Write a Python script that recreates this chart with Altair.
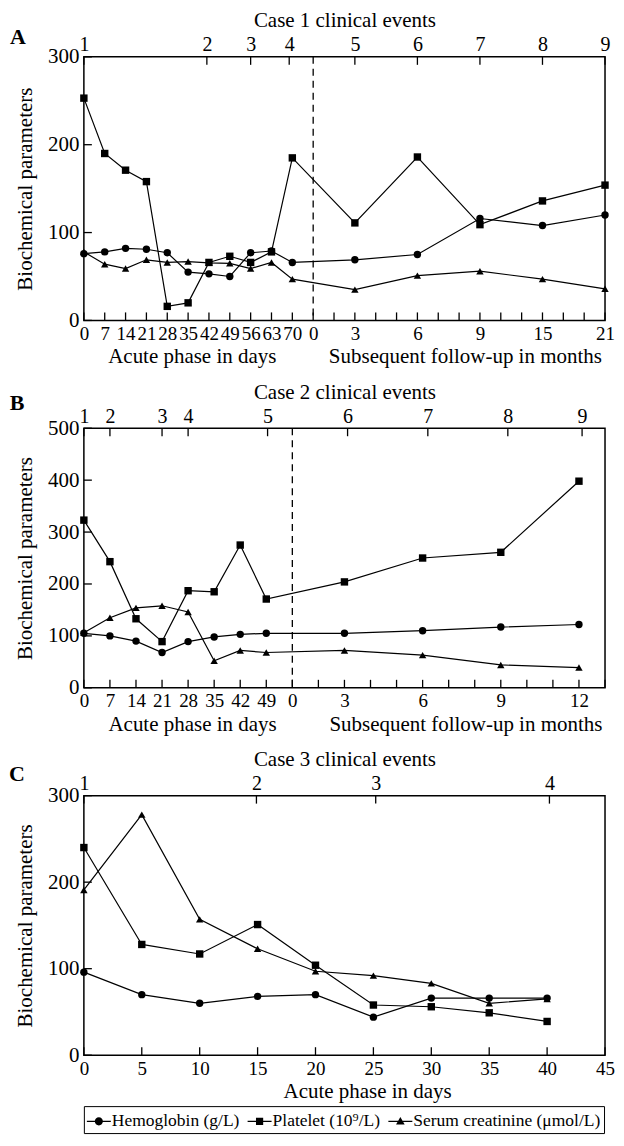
import json
import altair as alt
import pandas as pd

FONT = "Liberation Serif"

SERIES = ["Hemoglobin (g/L)", "Platelet (10⁹/L)", "Serum creatinine (μmol/L)"]
SHAPES = ["circle", "square", "triangle-up"]
LEGEND_PATHS = [
    "M-1,-0.06H1V0.06H-1Z M0.34,0 A0.34,0.34 0 1,1 -0.34,0 A0.34,0.34 0 1,1 0.34,0Z",
    "M-1,-0.06H1V0.06H-1Z M-0.3,-0.3H0.3V0.3H-0.3Z",
    "M-1,-0.06H1V0.06H-1Z M0,-0.36L0.36,0.26L-0.36,0.26Z",
]

# ---------------- Panel A (Case 1) ----------------
A_slots = [0, 1, 2, 3, 4, 5, 6, 7, 8, 9, 10, 13, 16, 19, 22, 25]
A_hb = [76, 78, 82, 81, 77, 55, 53, 50, 77, 79, 66, 69, 75, 116, 108, 120]
A_plt = [253, 190, 171, 158, 16, 20, 66, 73, 66, 78, 185, 111, 186, 109, 136, 154]
A_cr = [78, 64, 59, 69, 66, 67, 65.5, 65, 59, 66, 47, 35, 51, 56, 47, 36]
A_tick_labels = ["0", "7", "14", "21", "28", "35", "42", "49", "56", "63", "70", "0",
                 "", "3", "", "", "6", "", "", "9", "", "", "15", "", "", "21"]
A_event_pos = [0, 5.9, 8, 9.85, 13, 16, 19, 22, 25]
A_event_labels = ["1", "2", "3", "4", "5", "6", "7", "8", "9"]
A_divider = [11]
A_xtitles = ["Acute phase in days", "Subsequent follow-up in months"]
A_xtitle_pos = [5.2, 18.3]
A_yticks = [0, 100, 200, 300]

# ---------------- Panel B (Case 2) ----------------
B_slots = [0, 1, 2, 3, 4, 5, 6, 7, 10, 13, 16, 19]
B_hb = [105, 100, 90, 68, 89, 98, 103, 105, 105, 110, 117, 122]
B_plt = [323, 243, 133, 89, 187, 185, 275, 171, 204, 250, 261, 398]
B_cr = [106, 135, 154, 158, 146, 52, 72, 68, 72, 63, 44, 39]
B_tick_labels = ["0", "7", "14", "21", "28", "35", "42", "49", "0", "", "3", "", "",
                 "6", "", "", "9", "", "", "12", ""]
B_event_pos = [0, 1, 3, 4, 7.05, 10.12, 13.2, 16.27, 19.12]
B_event_labels = ["1", "2", "3", "4", "5", "6", "7", "8", "9"]
B_divider = [8]
B_xtitles = ["Acute phase in days", "Subsequent follow-up in months"]
B_xtitle_pos = [4.17, 14.66]
B_yticks = [0, 100, 200, 300, 400, 500]

# ---------------- Panel C (Case 3) ----------------
C_days = [0, 5, 10, 15, 20, 25, 30, 35, 40]
C_hb = [96, 70, 60, 68, 70, 44, 66, 66, 66]
C_plt = [240, 128, 117, 151, 104, 58, 56, 49, 39]
C_cr = [191, 278, 157, 123, 97, 92, 83, 60, 65]
C_tick_pos = [0, 5, 10, 15, 20, 25, 30, 35, 40, 45]
C_tick_labels = ["0", "5", "10", "15", "20", "25", "30", "35", "40", "45"]
C_event_pos = [0, 14.9, 25.2, 40.2]
C_event_labels = ["1", "2", "3", "4"]
C_xtitles = ["Acute phase in days"]
C_xtitle_pos = [24.5]
C_yticks = [0, 100, 200, 300]


def label_expr(pos, labels):
    return f"{json.dumps(labels)}[indexof({json.dumps(pos)}, datum.value)]"


def panel(letter, letter_xy, xs, hb, plt, cr, xdom, tick_pos, tick_labels,
          event_pos, event_labels, top_title, dividers, xtitles, xtitle_pos,
          ydom, yticks, width, height, legend=False):
    rows = []
    for name, vals in zip(SERIES, [hb, plt, cr]):
        for x, v in zip(xs, vals):
            rows.append({"x": x, "value": v, "series": name})
    df = pd.DataFrame(rows)

    xscale = alt.Scale(domain=xdom, nice=False, zero=False)
    yscale = alt.Scale(domain=ydom, nice=False, zero=False)

    bottom_axis = alt.Axis(values=tick_pos, labelExpr=label_expr(tick_pos, tick_labels),
                           ticks=False, tickSize=0, domain=False, grid=False,
                           labelFontSize=19, labelPadding=4, labelOverlap=False,
                           labelFlush=False, title=None)
    left_axis = alt.Axis(values=yticks, ticks=False, tickSize=0, domain=False, grid=False,
                         labelFontSize=21, labelPadding=5, labelOverlap=False,
                         labelFlush=False, title="Biochemical parameters",
                         titleFontSize=21, titleFontWeight="normal", titlePadding=12)
    top_axis = alt.Axis(orient="top", values=event_pos,
                        labelExpr=label_expr(event_pos, event_labels),
                        ticks=False, tickSize=0, domain=False, grid=False,
                        labelFontSize=20, labelPadding=2, labelOverlap=False,
                        labelFlush=False, title=top_title, titleFontSize=21,
                        titleFontWeight="normal", titlePadding=4)

    def Y():
        return alt.Y("value:Q", scale=yscale, axis=left_axis)

    lines = alt.Chart(df).mark_line(color="black", strokeWidth=1.2).encode(
        x=alt.X("x:Q", scale=xscale, axis=bottom_axis),
        y=Y(),
        detail="series:N",
    )
    points = alt.Chart(df).mark_point(filled=True, color="black", opacity=1, size=55).encode(
        x=alt.X("x:Q", scale=xscale, axis=None),
        y=Y(),
        shape=alt.Shape("series:N", scale=alt.Scale(domain=SERIES, range=SHAPES), legend=None),
    )
    top_ticks = alt.Chart(pd.DataFrame({"x": event_pos})).mark_rule(
        color="black", strokeWidth=1.3).encode(
        x=alt.X("x:Q", scale=xscale, axis=top_axis),
        y=alt.value(0), y2=alt.value(8),
    )
    bottom_ticks = alt.Chart(pd.DataFrame({"x": tick_pos})).mark_rule(
        color="black", strokeWidth=1.3).encode(
        x=alt.X("x:Q", scale=xscale, axis=None),
        y=alt.value(height), y2=alt.value(height - 8),
    )
    y_ticks = alt.Chart(pd.DataFrame({"value": yticks})).mark_rule(
        color="black", strokeWidth=1.3).encode(
        y=Y(),
        x=alt.value(0), x2=alt.value(8),
    )
    xt = alt.Chart(pd.DataFrame({"x": xtitle_pos, "t": xtitles})).mark_text(
        font=FONT, fontSize=21, baseline="middle", color="black").encode(
        x=alt.X("x:Q", scale=xscale, axis=None),
        y=alt.value(height + 37),
        text="t:N",
    )
    let = alt.Chart(pd.DataFrame({"t": [letter]})).mark_text(
        font=FONT, fontSize=22, fontWeight="bold", baseline="middle", color="black").encode(
        x=alt.value(letter_xy[0]), y=alt.value(letter_xy[1]), text="t:N",
    )
    layers = [lines, points, top_ticks, bottom_ticks, y_ticks, xt, let]
    if dividers:
        div = alt.Chart(pd.DataFrame({"x": dividers})).mark_rule(
            color="black", strokeWidth=1.3, strokeDash=[7, 5]).encode(
            x=alt.X("x:Q", scale=xscale, axis=None),
        )
        layers.append(div)
    if legend:
        dummy = alt.Chart(pd.DataFrame({"series": SERIES, "x": [None] * 3,
                                        "value": [None] * 3})).mark_point(
            filled=True, color="black", opacity=1).encode(
            x=alt.X("x:Q", scale=xscale, axis=None),
            y=Y(),
            shape=alt.Shape("series:N",
                            scale=alt.Scale(domain=SERIES, range=LEGEND_PATHS),
                            legend=alt.Legend(title=None, orient="bottom",
                                              direction="horizontal",
                                              symbolSize=576, symbolStrokeWidth=0,
                                              symbolFillColor="black",
                                              labelFont=FONT, labelFontSize=17.5,
                                              labelColor="black", labelLimit=400,
                                              labelOffset=1, columnPadding=8,
                                              strokeColor="black", padding=3,
                                              offset=28)),
        )
        layers.append(dummy)
    ch = alt.layer(*layers).resolve_axis(x="independent").properties(
        width=width, height=height)
    if legend:
        ch = ch.resolve_scale(shape="independent")
    return ch


pA = panel("A", (-66, -20), A_slots, A_hb, A_plt, A_cr, [0, 25], list(range(26)),
           A_tick_labels, A_event_pos, A_event_labels, "Case 1 clinical events",
           A_divider, A_xtitles, A_xtitle_pos, [0, 300], A_yticks, 522, 264)
pB = panel("B", (-67, -25), B_slots, B_hb, B_plt, B_cr, [0, 20], list(range(21)),
           B_tick_labels, B_event_pos, B_event_labels, "Case 2 clinical events",
           B_divider, B_xtitles, B_xtitle_pos, [0, 500], B_yticks, 522, 260)
pC = panel("C", (-67, -22), C_days, C_hb, C_plt, C_cr, [0, 45], C_tick_pos,
           C_tick_labels, C_event_pos, C_event_labels, "Case 3 clinical events",
           [], C_xtitles, C_xtitle_pos, [0, 300], C_yticks, 522, 260, legend=True)

chart = alt.vconcat(pA, pB, pC, spacing=12).properties(
    padding={"left": 0, "top": 0, "right": 0, "bottom": 0},
    background="white",
).configure_view(stroke="black", strokeWidth=1.5).configure_axis(
    labelFont=FONT, titleFont=FONT, labelColor="black", titleColor="black"
).configure_text(font=FONT)

chart.save("out.html", embed_options={"renderer": "svg", "actions": False})
